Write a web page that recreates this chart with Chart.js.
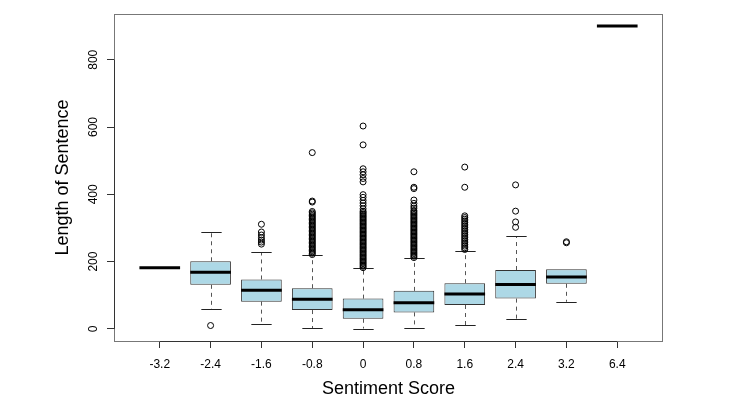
<!DOCTYPE html>
<html><head><meta charset="utf-8">
<script src="https://cdn.jsdelivr.net/npm/chart.js@4.4.1/dist/chart.umd.min.js"></script>
<style>html,body{margin:0;padding:0;background:#fff;}#wrap{width:750px;height:404px;position:relative;}</style>
</head><body><div id="wrap"><canvas id="c"></canvas></div>
<script>
// ---- data ----
const categories = ['-3.2','-2.4','-1.6','-0.8','0','0.8','1.6','2.4','3.2','6.4'];
const yTicks = [0, 200, 400, 600, 800];
const whiskerLow  = [182,  58,  14,   3,   1,   3,  11,  29,  81, 900];
const q1          = [182, 131,  81,  56,  30,  49,  71,  90, 134, 900];
const median      = [182, 168, 115,  88,  57,  78, 104, 132, 154, 900];
const q3          = [182, 201, 147, 121,  90, 113, 136, 175, 177, 900];
const whiskerHigh = [182, 289, 228, 221, 181, 211, 233, 276, 177, 900];

const outM32 = [];
const outM24 = [10];
const outM16 = [311, 288, 279, 271, 264, 258, 252];
const outM08 = [524, 380, 377, 221, 225, 229, 233, 237, 241, 245, 249, 253, 257, 261, 265, 269, 273, 277, 281, 285, 289, 293, 297, 301, 305, 309, 313, 317, 321, 325, 329, 333, 337, 341, 345, 349];
const out0   = [603, 547, 476, 467, 458, 447, 437, 399, 391, 382, 374, 366, 357, 182, 186, 190, 194, 198, 202, 206, 210, 214, 218, 222, 226, 230, 234, 238, 242, 246, 250, 254, 258, 262, 266, 270, 274, 278, 282, 286, 290, 294, 298, 302, 306, 310, 314, 318, 322, 326, 330, 334, 338, 342, 346, 350];
const outP08 = [467, 421, 417, 383, 373, 365, 359, 212, 216, 220, 224, 228, 232, 236, 240, 244, 248, 252, 256, 260, 264, 268, 272, 276, 280, 284, 288, 292, 296, 300, 304, 308, 312, 316, 320, 324, 328, 332, 336, 340, 344, 348, 352];
const outP16 = [481, 421, 236, 241, 246, 251, 256, 261, 266, 271, 276, 281, 286, 291, 296, 301, 306, 311, 316, 321, 326, 331, 336];
const outP24 = [428, 350, 318, 302];
const outP32 = [259, 256];
const outP64 = [];
const outliers = [outM32, outM24, outM16, outM08, out0, outP08, outP16, outP24, outP32, outP64];

// ---- derived library data ----
const boxData = [];
categories.forEach((c, i) => { if (q3[i] > q1[i]) boxData.push({x: i + 1, y: [q1[i], q3[i]]}); });
const outlierData = [];
outliers.forEach((arr, i) => arr.forEach(v => outlierData.push({x: i + 1, y: v})));

const FONT = '"Liberation Sans", Arial, Helvetica, sans-serif';

const boxPlugin = {
  id: 'boxdraw',
  beforeDatasetsDraw(chart) {
    const ctx = chart.ctx, xs = chart.scales.x, ys = chart.scales.y;
    ctx.save();
    categories.forEach((c, i) => {
      const pos = i + 1;
      const x = Math.round(xs.getPixelForValue(pos)) + 0.5;
      const half = (xs.getPixelForValue(pos + 0.4) - xs.getPixelForValue(pos - 0.4)) / 2;
      const cap = half / 2;
      const segs = [];
      if (whiskerLow[i] < q1[i]) segs.push([whiskerLow[i], q1[i]]);
      if (whiskerHigh[i] > q3[i]) segs.push([whiskerHigh[i], q3[i]]);
      segs.forEach(([end, start]) => {
        const ye = ys.getPixelForValue(end), yb = ys.getPixelForValue(start);
        ctx.strokeStyle = '#555'; ctx.lineWidth = 1;
        ctx.setLineDash([4, 4]);
        ctx.beginPath(); ctx.moveTo(x, yb); ctx.lineTo(x, ye); ctx.stroke();
        ctx.setLineDash([]);
        ctx.strokeStyle = '#222';
        const yy = Math.round(ye) + 0.5;
        ctx.beginPath(); ctx.moveTo(x - cap, yy); ctx.lineTo(x + cap, yy); ctx.stroke();
      });
    });
    ctx.restore();
  },
  afterDatasetsDraw(chart) {
    const ctx = chart.ctx, xs = chart.scales.x, ys = chart.scales.y;
    ctx.save();
    ctx.strokeStyle = '#000'; ctx.lineWidth = 3; ctx.lineCap = 'butt';
    categories.forEach((c, i) => {
      const pos = i + 1;
      const xl = xs.getPixelForValue(pos - 0.4), xr = xs.getPixelForValue(pos + 0.4);
      const y = ys.getPixelForValue(median[i]);
      ctx.beginPath(); ctx.moveTo(xl, y); ctx.lineTo(xr, y); ctx.stroke();
    });
    ctx.restore();
  },
  afterDraw(chart) {
    const ctx = chart.ctx, a = chart.chartArea, xs = chart.scales.x, ys = chart.scales.y;
    ctx.save();
    ctx.lineWidth = 1;
    ctx.strokeStyle = '#777';
    ctx.strokeRect(a.left + 0.5, a.top + 0.5, a.right - a.left - 1, a.bottom - a.top);
    ctx.strokeStyle = '#333';
    const yb = Math.round(a.bottom) + 0.5;
    ctx.beginPath();
    ctx.moveTo(xs.getPixelForValue(1), yb); ctx.lineTo(xs.getPixelForValue(categories.length), yb);
    ctx.stroke();
    const xl = a.left + 0.5;
    ctx.beginPath();
    ctx.moveTo(xl, ys.getPixelForValue(yTicks[0])); ctx.lineTo(xl, ys.getPixelForValue(yTicks[yTicks.length - 1]));
    ctx.stroke();
    ctx.restore();
  }
};

new Chart(document.getElementById('c'), {
  type: 'scatter',
  data: {
    datasets: [
      {
        type: 'bar', data: boxData,
        backgroundColor: '#ADD8E6', borderColor: '#333', borderWidth: 1, borderSkipped: false,
        barPercentage: 0.8, categoryPercentage: 1, grouped: false, order: 2
      },
      {
        type: 'scatter', data: outlierData,
        pointStyle: 'circle', pointRadius: 3, pointBorderWidth: 1,
        pointBorderColor: '#000', pointBackgroundColor: 'rgba(0,0,0,0)', order: 1
      }
    ]
  },
  options: {
    responsive: true, maintainAspectRatio: false, animation: false, devicePixelRatio: 1,
    layout: {padding: {left: 0, top: 14, right: 87, bottom: 0}},
    plugins: {legend: {display: false}, tooltip: {enabled: false}},
    scales: {
      x: {
        type: 'linear', min: 0.1, max: 10.9, offset: false,
        afterBuildTicks: s => { s.ticks = categories.map((c, i) => ({value: i + 1})); },
        afterFit: s => { s.height = 63; },
        ticks: {
          callback: v => categories[Math.round(v) - 1],
          font: {family: FONT, size: 12}, color: '#000', padding: 9,
          maxRotation: 0, minRotation: 0, autoSkip: false
        },
        grid: {drawOnChartArea: false, drawTicks: true, tickLength: 7, color: '#333', offset: false},
        border: {display: false},
        title: {display: true, text: 'Sentiment Score', font: {family: FONT, size: 18}, color: '#000', padding: {top: 0, bottom: 4}}
      },
      y: {
        type: 'linear', min: -36, max: 936,
        afterBuildTicks: s => { s.ticks = yTicks.map(v => ({value: v})); },
        afterFit: s => { s.width = 114; },
        ticks: {
          font: {family: FONT, size: 12}, color: '#000', padding: 3,
          minRotation: 90, maxRotation: 90, crossAlign: 'center'
        },
        grid: {drawOnChartArea: false, drawTicks: true, tickLength: 7, color: '#333'},
        border: {display: false},
        title: {display: true, text: 'Length of Sentence', font: {family: FONT, size: 18}, color: '#000', padding: {top: 52, bottom: 0}}
      }
    }
  },
  plugins: [boxPlugin]
});
</script>
</body></html>
